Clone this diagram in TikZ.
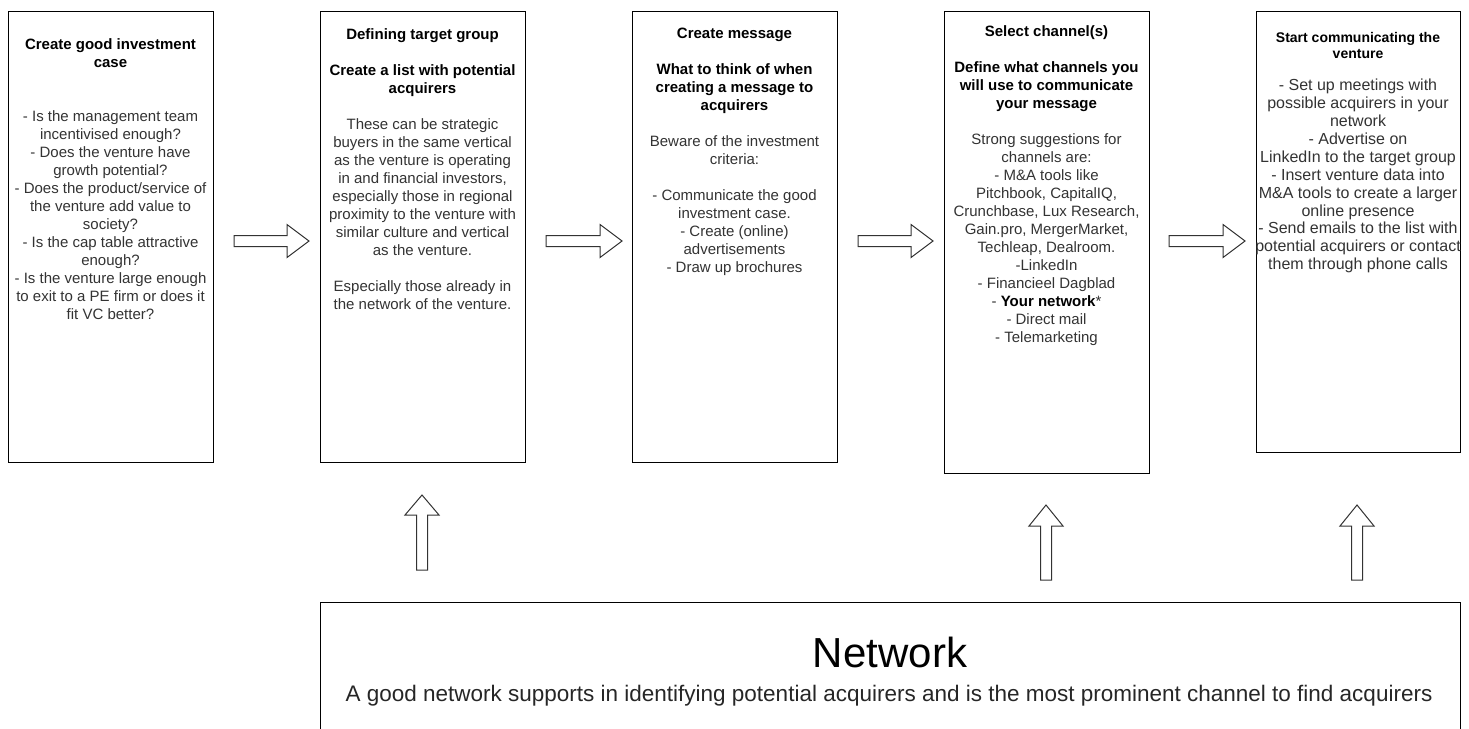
\documentclass[tikz,border=0pt]{standalone}
\usepackage{fontspec}
\setmainfont{Liberation Sans}
\newcommand\hd[1]{\textcolor{black}{\bfseries #1}}
\begin{document}
\begin{tikzpicture}[x=1pt,y=-1pt,
  box/.style={draw=black, line width=1pt, fill=white, inner sep=0pt},
  txt/.style={align=center, inner sep=0pt, anchor=north, text=black!80,
    font=\fontsize{15}{18}\selectfont, execute at begin node={\rule{0pt}{14pt}}},
  arrowline/.style={draw=black!80, line width=1pt, fill=white, line join=miter},
  pics/blockarrow/.style n args={4}{code={
    \draw[arrowline] (0,-#2) -- (#1-#4,-#2) -- (#1-#4,-#3) -- (#1,0)
      -- (#1-#4,#3) -- (#1-#4,#2) -- (0,#2) -- cycle;
  }}
]
\useasboundingbox (0,0) rectangle (1469,728);

% process step boxes
\node[box, minimum width=205pt, minimum height=451pt] (b1) at (110.5,236.5) {};
\node[box, minimum width=205pt, minimum height=451pt] (b2) at (422.5,236.5) {};
\node[box, minimum width=205pt, minimum height=451pt] (b3) at (734.5,236.5) {};
\node[box, minimum width=205pt, minimum height=462pt] (b4) at (1046.5,242) {};
\node[box, minimum width=204pt, minimum height=441pt] (b5) at (1358,231.5) {};

% step texts
\node[txt] (t1) at (b1.north |- 0,38) {\hd{Create good investment}\\\hd{case}\\[36pt]
- Is the management team\\incentivised enough?\\- Does the venture have\\growth potential?\\
- Does the product/service of\\the venture add value to\\society?\\- Is the cap table attractive\\
enough?\\- Is the venture large enough\\to exit to a PE firm or does it\\fit VC better?};

\node[txt] (t2) at (b2.north |- 0,28.7) {\hd{Defining target group}\\[18pt]
\hd{Create a list with potential}\\\hd{acquirers}\\[18pt]
These can be strategic\\buyers in the same vertical\\as the venture is operating\\
in and financial investors,\\especially those in regional\\proximity to the venture with\\
similar culture and vertical\\as the venture.\\[18pt]
Especially those already in\\the network of the venture.};

\node[txt] (t3) at (b3.north |- 0,28) {\hd{Create message}\\[18pt]
\hd{What to think of when}\\\hd{creating a message to}\\\hd{acquirers}\\[18pt]
Beware of the investment\\criteria:\\[18pt]
- Communicate the good\\investment case.\\- Create (online)\\advertisements\\- Draw up brochures};

\node[txt] (t4) at (b4.north |- 0,25) {\hd{Select channel(s)}\\[18pt]
\hd{Define what channels you}\\\hd{will use to communicate}\\\hd{your message}\\[18pt]
Strong suggestions for\\channels are:\\- M\&A tools like\\Pitchbook, CapitalIQ,\\
Crunchbase, Lux Research,\\Gain.pro, MergerMarket,\\Techleap, Dealroom.\\-LinkedIn\\
- Financieel Dagblad\\- \hd{Your network}*\\- Direct mail\\- Telemarketing};

\node[txt, font=\fontsize{14}{16}\selectfont] (t5a) at (b5.north |- 0,32)
  {\hd{Start communicating the}\\\hd{venture}};
\node[txt, font=\fontsize{16}{17.9}\selectfont] (t5b) at (b5.north |- 0,79)
  {- Set up meetings with\\possible acquirers in your\\network\\- Advertise on\\
  LinkedIn to the target group\\- Insert venture data into\\M\&A tools to create a larger\\
  online presence\\- Send emails to the list with\\potential acquirers or contact\\
  them through phone calls};

% network box, running off the lower edge
\draw[line width=1pt, draw=black] (320,730) -- (320,602) -- (1460,602) -- (1460,730);
\node[anchor=base, inner sep=0pt, font=\fontsize{42}{48}\selectfont] (nt) at (890,667) {Network};
\node[anchor=base, inner sep=0pt, text=black!85, font=\fontsize{22.5}{26}\selectfont] (ns) at (889,701)
  {A good network supports in identifying potential acquirers and is the most prominent channel to find acquirers};

% flow arrows between the steps
\pic at (234,241) {blockarrow={75}{5.5}{16.5}{22}};
\pic at (546,241) {blockarrow={76}{5.5}{16.5}{22}};
\pic at (858,241) {blockarrow={75}{5.5}{16.5}{22}};
\pic at (1169,241) {blockarrow={76}{5.5}{16.5}{22}};

% arrows rising from the network
\pic[rotate=90] at (422,570) {blockarrow={75}{5.5}{17}{20}};
\pic[rotate=90] at (1046,580) {blockarrow={75}{5.5}{17}{21}};
\pic[rotate=90] at (1357,580) {blockarrow={75}{5.5}{17}{21}};
\end{tikzpicture}
\end{document}
